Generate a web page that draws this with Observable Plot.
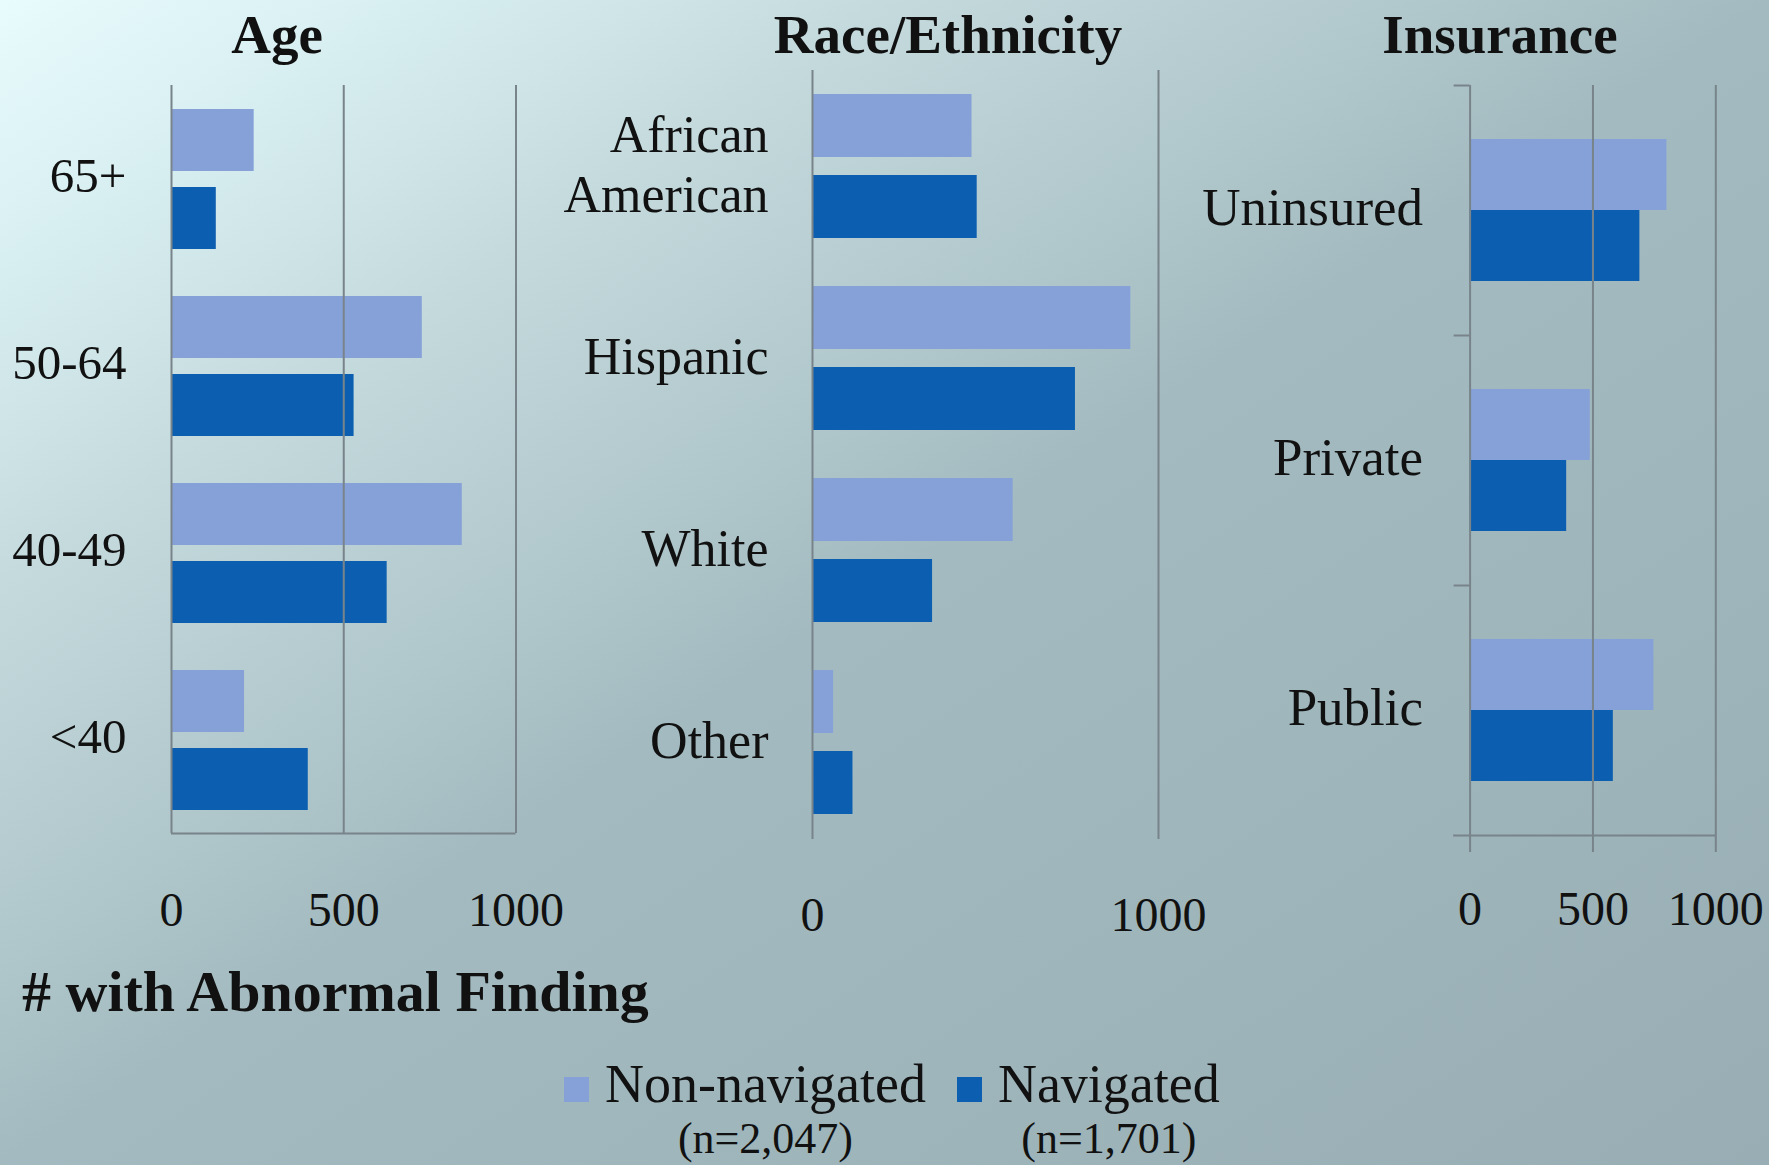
<!DOCTYPE html>
<html>
<head>
<meta charset="utf-8">
<script src="https://cdn.jsdelivr.net/npm/d3@7"></script>
<script src="https://cdn.jsdelivr.net/npm/@observablehq/plot@0.6"></script>
<style>
  html, body { margin: 0; padding: 0; }
  #chart {
    position: relative; width: 1769px; height: 1165px; overflow: hidden;
    background: linear-gradient(to bottom right, #e8fbfd 0%, #d7eef0 12%, #c5dadd 25%, #a3bbc0 50%, #98aeb4 100%);
    font-family: "Liberation Serif", serif; color: #111;
  }
  .title { position: absolute; width: 600px; text-align: center; font-weight: bold; font-size: 55px; line-height: 1; }
  .caption { position: absolute; left: 22px; top: 963px; font-weight: bold; font-size: 58px; line-height: 1; }
  .legend { position: absolute; left: 564px; top: 1057px; display: flex; gap: 31px; }
  .item { display: flex; align-items: flex-start; }
  .sw { width: 25px; height: 25px; margin-top: 20px; }
  .col { margin-left: 16px; text-align: center; }
  .name { font-size: 54px; line-height: 1; }
  .n { font-size: 44px; line-height: 1; margin-top: 6px; }
  .panel { position: absolute; top: 0; }
</style>
</head>
<body>
<div id="chart"></div>
<script>
// ---- data ----
const seriesNames = ["Non-navigated", "Navigated"];
const seriesCounts = ["(n=2,047)", "(n=1,701)"];
const seriesColors = ["#86a1d8", "#0c5fb0"];

const ageTitle = "Age";
const ageCats = ["65+", "50-64", "40-49", "<40"];
const ageNonNav = [240, 728, 844, 212];
const ageNav = [130, 530, 626, 397];
const ageTicks = [0, 500, 1000];

const raceTitle = "Race/Ethnicity";
const raceCats = ["African American", "Hispanic", "White", "Other"];
const raceNonNav = [461, 920, 580, 61];
const raceNav = [476, 760, 347, 117];
const raceTicks = [0, 1000];

const insTitle = "Insurance";
const insCats = ["Uninsured", "Private", "Public"];
const insNonNav = [801, 489, 748];
const insNav = [691, 393, 583];
const insTicks = [0, 500, 1000];

const captionText = "# with Abnormal Finding";

// ---- drawing ----
const lineColor = "#78848a";
const chart = document.getElementById("chart");

function makePanel(o) {
  const band = (o.frameBottom - o.frameTop) / o.cats.length;
  const light = o.cats.map((c, i) => ({cat: c, value: o.nonNav[i]}));
  const dark = o.cats.map((c, i) => ({cat: c, value: o.nav[i]}));
  const marks = [
    Plot.barX(light, {x: "value", y: "cat", fill: seriesColors[0], insetTop: o.lightInset[0], insetBottom: o.lightInset[1]}),
    Plot.barX(dark, {x: "value", y: "cat", fill: seriesColors[1], insetTop: o.darkInset[0], insetBottom: o.darkInset[1]}),
    Plot.ruleX(o.ticks, {stroke: lineColor, strokeWidth: 2}),
    Plot.axisX({ticks: o.ticks, tickFormat: d => String(d), tickSize: o.xTickSize, tickPadding: o.xTickPad, fontSize: 48,
                label: null, stroke: lineColor, strokeWidth: 2, fill: "#111"}),
    Plot.axisY({tickSize: 0, tickPadding: o.labelGap, fontSize: o.labelSize, label: null, lineHeight: 1.15, fill: "#111", dy: -5,
                tickFormat: d => d.replace(" ", "\n")})
  ];
  if (o.bottomLine) {
    marks.push(Plot.ruleY([o.cats[o.cats.length - 1]], {x1: () => o.bottomLine[0], x2: () => o.bottomLine[1], dy: band / 2, stroke: lineColor, strokeWidth: 2}));
  }
  if (o.boundaryTick !== undefined) {
    marks.push(Plot.ruleY(o.cats, {x1: () => o.boundaryTick, x2: () => 0, dy: -band / 2, stroke: lineColor, strokeWidth: 2}));
  }
  const svg = Plot.plot({
    width: o.width,
    height: o.height,
    marginLeft: o.x0 - o.left,
    marginRight: o.left + o.width - o.x1000,
    marginTop: o.frameTop,
    marginBottom: o.height - o.frameBottom,
    x: {domain: [0, 1000], axis: null},
    y: {domain: o.cats, padding: 0, axis: null},
    style: {background: "none", fontFamily: "Liberation Serif, serif", color: "#111", overflow: "visible"},
    marks
  });
  svg.classList.add("panel");
  svg.style.left = o.left + "px";
  chart.appendChild(svg);

  const t = document.createElement("div");
  t.className = "title";
  t.textContent = o.title;
  t.style.left = (o.titleX - 300) + "px";
  t.style.top = "7px";
  chart.appendChild(t);
}

makePanel({title: ageTitle, titleX: 277, cats: ageCats, nonNav: ageNonNav, nav: ageNav, ticks: ageTicks,
  left: 0, width: 600, height: 980, x0: 171, x1000: 515.5, frameTop: 85, frameBottom: 833,
  lightInset: [24, 101], darkInset: [102, 23], labelGap: 45, labelSize: 49, xTickSize: 0, xTickPad: 58,
  bottomLine: [0, 1000]});

makePanel({title: raceTitle, titleX: 948, cats: raceCats, nonNav: raceNonNav, nav: raceNav, ticks: raceTicks,
  left: 560, width: 660, height: 980, x0: 812, x1000: 1158, frameTop: 70, frameBottom: 839,
  lightInset: [23, 106], darkInset: [104, 25], labelGap: 44, labelSize: 52, xTickSize: 0, xTickPad: 57});

makePanel({title: insTitle, titleX: 1500, cats: insCats, nonNav: insNonNav, nav: insNav, ticks: insTicks,
  left: 1160, width: 609, height: 980, x0: 1469.6, x1000: 1715.3, frameTop: 85, frameBottom: 835,
  lightInset: [54, 125], darkInset: [125, 54], labelGap: 47, labelSize: 53, xTickSize: 17, xTickPad: 38,
  bottomLine: [-67, 1000], boundaryTick: -65});

const cap = document.createElement("div");
cap.className = "caption";
cap.textContent = captionText;
chart.appendChild(cap);

const legend = document.createElement("div");
legend.className = "legend";
seriesNames.forEach((name, i) => {
  const item = document.createElement("div");
  item.className = "item";
  const sw = document.createElement("div");
  sw.className = "sw";
  sw.style.background = seriesColors[i];
  const col = document.createElement("div");
  col.className = "col";
  const nm = document.createElement("div");
  nm.className = "name";
  nm.textContent = name;
  const n = document.createElement("div");
  n.className = "n";
  n.textContent = seriesCounts[i];
  col.appendChild(nm);
  col.appendChild(n);
  item.appendChild(sw);
  item.appendChild(col);
  legend.appendChild(item);
});
chart.appendChild(legend);
</script>
</body>
</html>
